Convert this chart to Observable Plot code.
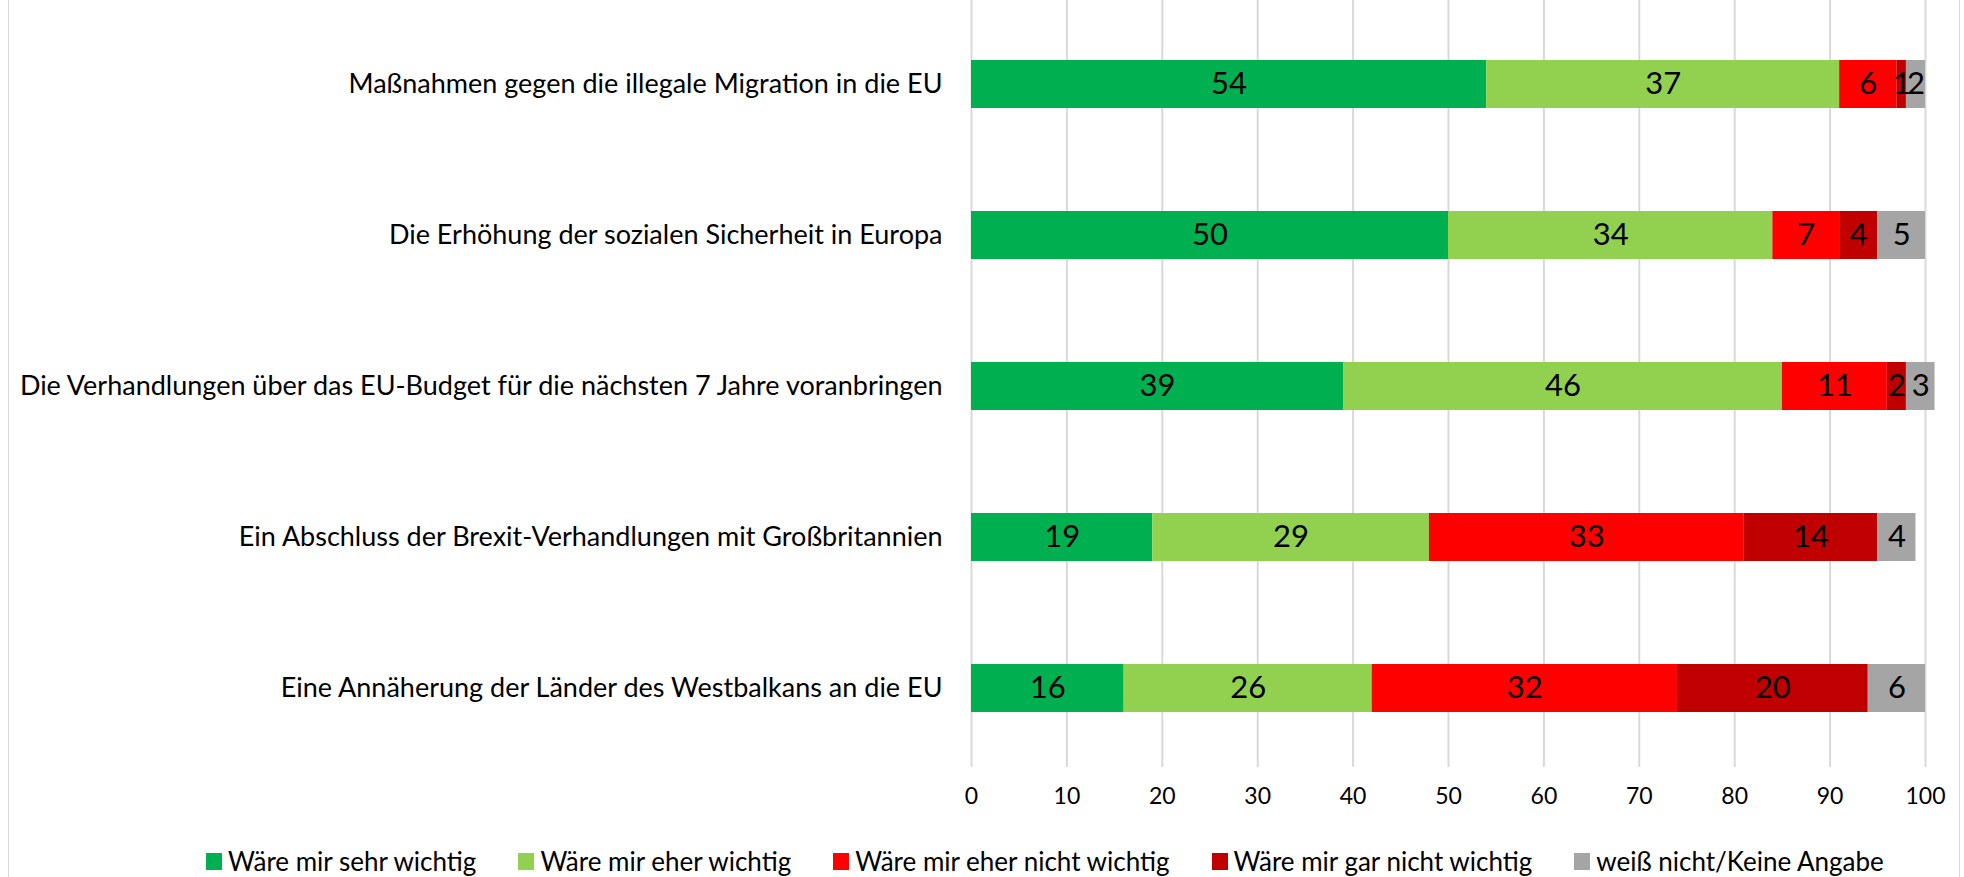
<!DOCTYPE html>
<html><head><meta charset="utf-8">
<script src="https://cdn.jsdelivr.net/npm/d3@7"></script>
<script src="https://cdn.jsdelivr.net/npm/@observablehq/plot@0.6"></script>
<style>
body{margin:0;background:#fff;}
#wrap{position:relative;width:1964px;height:877px;overflow:hidden;font-family:Lato,"Open Sans",sans-serif;color:#000;}
#chart{position:absolute;left:0;top:0;}
#legend{position:absolute;left:206px;top:848px;display:flex;align-items:center;gap:42px;font-size:26px;line-height:26px;white-space:nowrap;}
#legend .it{display:flex;align-items:center;gap:6px;}
#legend .sw{width:16px;height:17px;display:inline-block;}
.bl{position:absolute;top:0;height:877px;width:1px;background:#d9d9d9;}
</style></head><body>
<div id="wrap"><div id="chart"></div><div id="legend"></div><div class="bl" style="left:8px"></div><div class="bl" style="left:1959px"></div></div>
<script>
const categories = [
  "Maßnahmen gegen die illegale Migration in die EU",
  "Die Erhöhung der sozialen Sicherheit in Europa",
  "Die Verhandlungen über das EU-Budget für die nächsten 7 Jahre voranbringen",
  "Ein Abschluss der Brexit-Verhandlungen mit Großbritannien",
  "Eine Annäherung der Länder des Westbalkans an die EU"
];
const series = ["Wäre mir sehr wichtig","Wäre mir eher wichtig","Wäre mir eher nicht wichtig","Wäre mir gar nicht wichtig","weiß nicht/Keine Angabe"];
const sehrWichtig      = [54, 50, 39, 19, 16];
const eherWichtig      = [37, 34, 46, 29, 26];
const eherNichtWichtig = [6, 7, 11, 33, 32];
const garNichtWichtig  = [1, 4, 2, 14, 20];
const weissNicht       = [2, 5, 3, 4, 6];
const colors = ["#00B050","#92D050","#FF0000","#C00000","#A5A5A5"];
const xTicks = [0,10,20,30,40,50,60,70,80,90,100];

const seriesValues = [sehrWichtig, eherWichtig, eherNichtWichtig, garNichtWichtig, weissNicht];
const data = [];
categories.forEach((c, i) => seriesValues.forEach((vals, j) => data.push({cat: c, series: series[j], value: vals[i]})));

const chart = Plot.plot({
  width: 1964, height: 820,
  marginLeft: 971, marginRight: 39, marginTop: 0, marginBottom: 53,
  style: {fontFamily: "Lato, 'Open Sans', sans-serif", color: "#000", background: "transparent"},
  x: {domain: [0, 100], label: null},
  y: {domain: categories, paddingInner: 0.68, paddingOuter: 0.34, insetTop: 7, insetBottom: 2, label: null},
  color: {domain: series, range: colors},
  marks: [
    Plot.ruleX(xTicks, {stroke: "#d9d9d9", strokeWidth: 2}),
    Plot.barX(data, Plot.stackX({x: "value", y: "cat", fill: "series"})),
    Plot.textX(data, Plot.stackX({x: "value", y: "cat", z: "series", text: d => String(d.value), fontSize: 31, fill: "#000"})),
    Plot.axisX({ticks: xTicks, tickSize: 0, tickPadding: 20, fontSize: 23, label: null}),
    Plot.axisY({tickSize: 0, tickPadding: 29, fontSize: 27, label: null})
  ]
});
document.getElementById("chart").appendChild(chart);

const legend = document.getElementById("legend");
series.forEach((s, j) => {
  const it = document.createElement("div"); it.className = "it";
  const sw = document.createElement("span"); sw.className = "sw"; sw.style.background = colors[j];
  const tx = document.createElement("span"); tx.textContent = s;
  it.appendChild(sw); it.appendChild(tx); legend.appendChild(it);
});
</script>
</body></html>
